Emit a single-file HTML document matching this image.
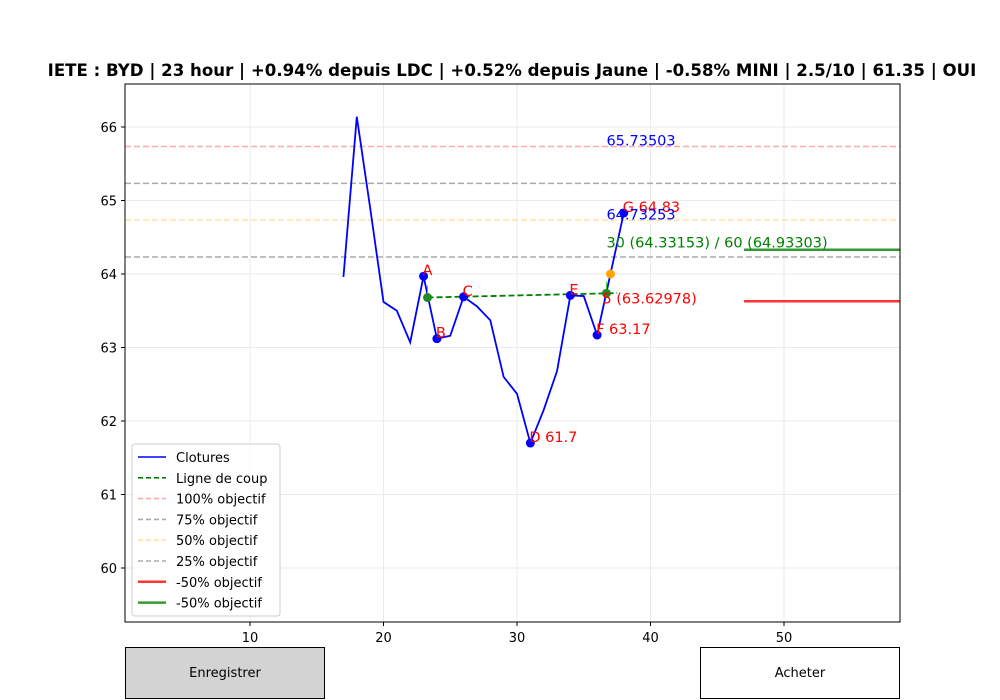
<!DOCTYPE html>
<html><head><meta charset="utf-8"><style>
body{margin:0;background:#fff;width:1000px;height:700px;overflow:hidden;font-family:"Liberation Sans","DejaVu Sans",sans-serif}
.btn{position:absolute;top:647px;height:52px;border:1px solid #000;box-sizing:border-box;display:flex;align-items:center;justify-content:center;font-size:13px;font-family:"DejaVu Sans","Liberation Sans",sans-serif}
</style></head><body>
<svg id="chart" width="1000" height="700" style="position:absolute;left:0;top:0" font-family="DejaVu Sans, Liberation Sans, sans-serif">
<text x="512" y="76" text-anchor="middle" font-size="16.6" font-weight="bold">IETE : BYD | 23 hour | +0.94% depuis LDC | +0.52% depuis Jaune | -0.58% MINI | 2.5/10 | 61.35 | OUI</text>
<g id="grid"></g><g id="hl"></g><g id="marks"></g><g id="ann"></g><g id="ticks"></g>
<rect x="125" y="84" width="775" height="538" fill="none" stroke="#000" stroke-width="1"/>
<g>
<rect x="132" y="444" width="148" height="172" rx="3" fill="#fff" fill-opacity="0.8" stroke="#ccc"/>
<g id="legend"></g></g>
</svg>
<div class="btn" style="left:125px;width:200px;background:#d3d3d3">Enregistrer</div>
<div class="btn" style="left:700px;width:200px;background:#fff">Acheter</div>
<script>
const xs=[17,18,19,20,21,22,23,24,25,26,27,28,29,30,31,32,33,34,35,36,37,38];
const closes=[63.96,66.14,64.9,63.62,63.5,63.07,63.97,63.12,63.16,63.69,63.56,63.37,62.6,62.37,61.7,62.15,62.68,63.71,63.7,63.17,64.0,64.83];
const xTicks=[10,20,30,40,50];
const yTicks=[60,61,62,63,64,65,66];
const objLevels=[65.73503,65.23378,64.73253,64.23128];
const objColors=['#ffaaaa','#aaaaaa','#ffe0aa','#aaaaaa'];
const pivotX=[23,24,26,31,34,36,38];
const pivotY=[63.97,63.12,63.69,61.7,63.71,63.17,64.83];
const pivotLbl=['A','B','C','D 61.7','E','F  63.17','G  64.83'];
const coupX=[23.3,37.5];
const coupY=[63.68,63.74];
const neg50Red=63.63,neg50Green=64.33,negStart=47;
const X=v=>116.5+v*13.35, Y=v=>127+(66-v)*73.5;
const NS='http://www.w3.org/2000/svg';
function mk(p,t,a,txt){const e=document.createElementNS(NS,t);for(const k in a)e.setAttribute(k,a[k]);if(txt!=null)e.textContent=txt;document.getElementById(p).appendChild(e);return e;}
xTicks.forEach(t=>{let e=mk('grid','line',{x1:X(t),x2:X(t),y1:84,y2:622,stroke:'#ebebeb'});

e=mk('ticks','line',{x1:X(t),x2:X(t),y1:622,y2:626,stroke:'#000'});
e=mk('ticks','text',{x:X(t),y:642,'text-anchor':'middle','font-size':13},t);
});
yTicks.forEach(t=>{let e=mk('grid','line',{x1:125,x2:900,y1:Y(t),y2:Y(t),stroke:'#ebebeb'});

mk('ticks','line',{x1:121,x2:125,y1:Y(t),y2:Y(t),stroke:'#000'});
e=mk('ticks','text',{x:117,y:Y(t)+5,'text-anchor':'end','font-size':13},t);
});
objLevels.forEach((v,i)=>{const e=mk('hl','line',{x1:125,x2:900,y1:Y(v),y2:Y(v),stroke:objColors[i],'stroke-width':1.5,'stroke-dasharray':'6,3'});
});
let e=mk('hl','line',{x1:X(negStart),x2:900,y1:Y(neg50Red),y2:Y(neg50Red),stroke:'#ff3333','stroke-width':2.5});

e=mk('hl','line',{x1:X(negStart),x2:900,y1:Y(neg50Green),y2:Y(neg50Green),stroke:'#339933','stroke-width':2.5});

e=mk('marks','polyline',{points:xs.map((x,i)=>X(x)+','+Y(closes[i])).join(' '),fill:'none',stroke:'#0000ff','stroke-width':1.8});

e=mk('marks','line',{x1:X(coupX[0]),x2:X(coupX[1]),y1:Y(coupY[0]),y2:Y(coupY[1]),stroke:'#008000','stroke-width':1.8,'stroke-dasharray':'6,3'});

[23.3,36.7].forEach(x=>{const y=coupY[0]+(coupY[1]-coupY[0])*(x-coupX[0])/(coupX[1]-coupX[0]);
mk('marks','line',{x1:X(x),x2:X(x),y1:Y(y),y2:Y(y)-12,stroke:'#33dd33','stroke-width':1});
const c=mk('marks','circle',{cx:X(x),cy:Y(y),r:4.5,fill:'#228b22'});
});
e=mk('marks','circle',{cx:X(37),cy:Y(64.0),r:4.5,fill:'orange'});

pivotX.forEach((x,i)=>{const c=mk('marks','circle',{cx:X(x),cy:Y(pivotY[i]),r:4.5,fill:'#0000ff'});

const t=mk('ann','text',{x:X(x)-1,y:Y(pivotY[i])-1,'font-size':14.5,fill:'#ff0000'},pivotLbl[i]);
});
[[37,65.73503+0.01,'65.73503','#0000ff'],[37,64.73253+0.01,'64.73253','#0000ff'],[37,64.33153+0.03,'30 (64.33153) / 60 (64.93303)','#008000'],[36.7,63.62978-0.03,'5 (63.62978)','#ff0000']].forEach(a=>{
const t=mk('ann','text',{x:X(a[0])-4,y:Y(a[1]),'font-size':14.5,fill:a[3]},a[2]);
});
const leg=[['Clotures','#0000ff',''],['Ligne de coup','#008000','5,3'],['100% objectif','#ffaaaa','5,3'],['75% objectif','#aaaaaa','5,3'],['50% objectif','#ffe0aa','5,3'],['25% objectif','#aaaaaa','5,3'],['-50% objectif','#ff3333',''],['-50% objectif','#339933','']];
leg.forEach((l,i)=>{const y=457+i*20.8;
mk('legend','line',{x1:138,x2:166,y1:y,y2:y,stroke:l[1],'stroke-width':i>5?2.5:1.6,'stroke-dasharray':l[2]});
const t=mk('legend','text',{x:176,y:y+5,'font-size':13},l[0]);
});
</script>
</body></html>
